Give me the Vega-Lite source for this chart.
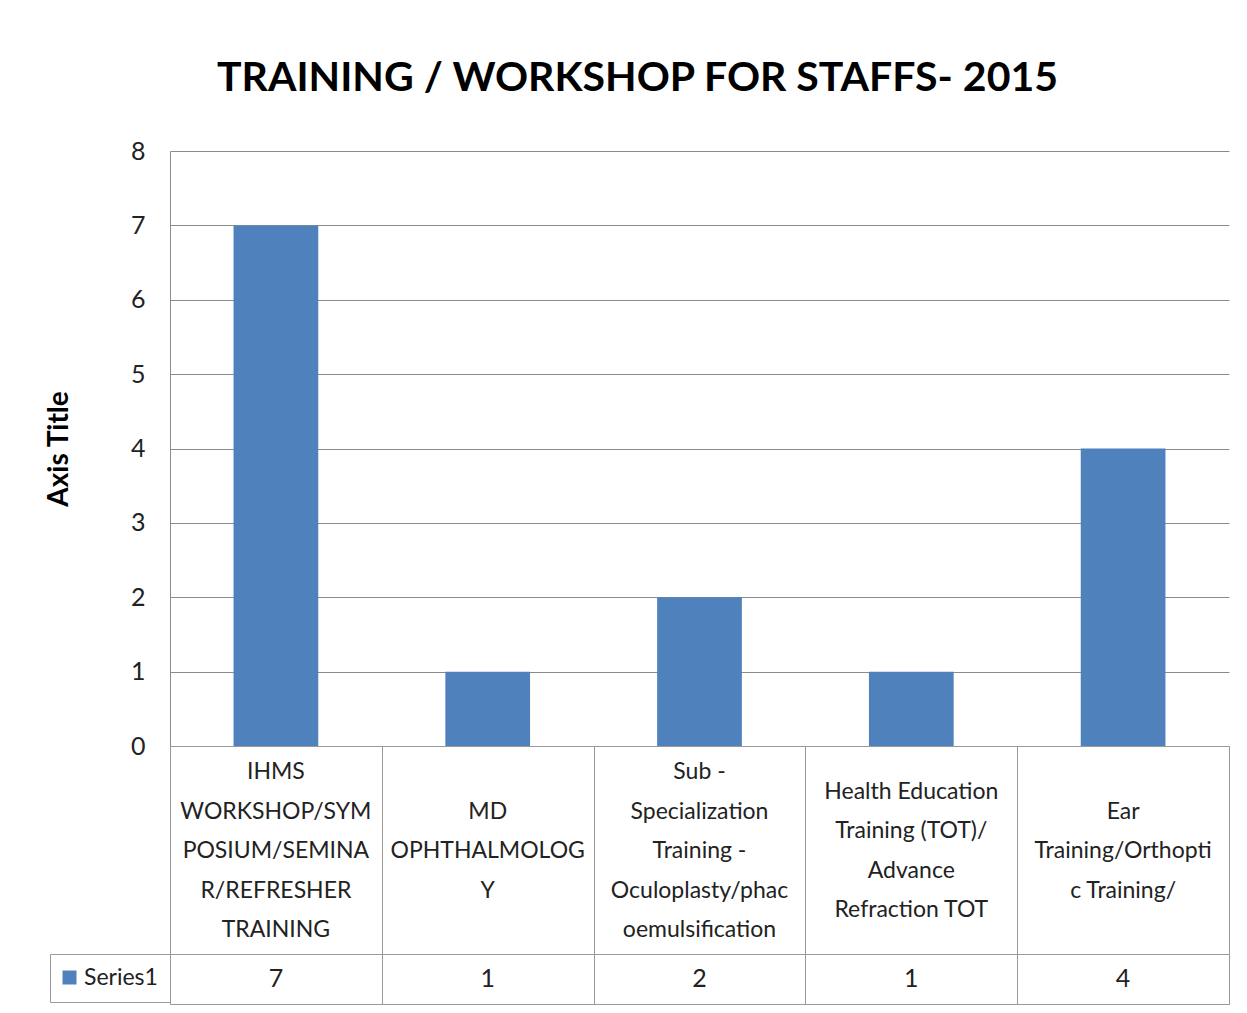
{
  "$schema": "https://vega.github.io/schema/vega-lite/v6.json",
  "padding": {"left": 45, "top": 58, "right": 18, "bottom": 5},
  "bounds": "flush",
  "title": {
    "text": "TRAINING / WORKSHOP FOR STAFFS- 2015",
    "fontSize": 41,
    "font": "Lato",
    "fontWeight": "bold",
    "color": "#000000",
    "anchor": "middle",
    "offset": 39
  },
  "data": {
    "values": [
      {"cat": "A", "label": "IHMS\nWORKSHOP/SYM\nPOSIUM/SEMINA\nR/REFRESHER\nTRAINING", "value": 7, "series": "Series1"},
      {"cat": "B", "label": "MD\nOPHTHALMOLOG\nY", "value": 1, "series": "Series1"},
      {"cat": "C", "label": "Sub -\nSpecialization\nTraining -\nOculoplasty/phac\noemulsification", "value": 2, "series": "Series1"},
      {"cat": "D", "label": "Health Education\nTraining (TOT)/\nAdvance\nRefraction TOT", "value": 1, "series": "Series1"},
      {"cat": "E", "label": "Ear\nTraining/Orthopti\nc Training/", "value": 4, "series": "Series1"}
    ]
  },
  "spacing": 0,
  "resolve": {
    "scale": {"x": "independent", "color": "independent"},
    "legend": {"color": "independent"}
  },
  "config": {
    "font": "Lato",
    "view": {"stroke": null},
    "text": {"color": "#222222"}
  },
  "vconcat": [
    {
      "width": 1059,
      "height": 595,
      "mark": {"type": "bar", "color": "#4F81BD"},
      "encoding": {
        "x": {
          "field": "cat",
          "type": "nominal",
          "sort": null,
          "scale": {"paddingInner": 0.6, "paddingOuter": 0.3},
          "axis": null
        },
        "y": {
          "field": "value",
          "type": "quantitative",
          "scale": {"domain": [0, 8], "nice": false},
          "axis": {
            "title": "Axis Title",
            "values": [0, 1, 2, 3, 4, 5, 6, 7, 8],
            "grid": true,
            "gridColor": "#8c8c8c",
            "gridOpacity": 1,
            "domainColor": "#8c8c8c",
            "ticks": false,
            "labelPadding": 25,
            "labelFontSize": 25,
            "labelColor": "#222222",
            "titleFontSize": 28,
            "titleFontWeight": "bold",
            "titleColor": "#000000",
            "titlePadding": 57
          }
        }
      }
    },
    {
      "width": 1059,
      "height": 208,
      "view": {"stroke": "#999999"},
      "encoding": {
        "x": {
          "field": "cat",
          "type": "nominal",
          "scale": {"domain": ["A", "B", "C", "D", "E"], "padding": 0},
          "axis": {
            "grid": true,
            "tickBand": "extent",
            "labels": false,
            "ticks": false,
            "domain": false,
            "title": null,
            "gridColor": "#999999",
            "gridOpacity": 1
          }
        },
        "text": {"field": "label"}
      },
      "layer": [
        {
          "transform": [{"filter": {"field": "cat", "oneOf": ["A", "C"]}}],
          "mark": {"type": "text", "lineBreak": "\n", "fontSize": 23, "lineHeight": 39.5, "baseline": "middle", "align": "center", "dy": -78}
        },
        {
          "transform": [{"filter": {"field": "cat", "oneOf": ["B", "E"]}}],
          "mark": {"type": "text", "lineBreak": "\n", "fontSize": 23, "lineHeight": 39.5, "baseline": "middle", "align": "center", "dy": -38.5}
        },
        {
          "transform": [{"filter": {"field": "cat", "oneOf": ["D"]}}],
          "mark": {"type": "text", "lineBreak": "\n", "fontSize": 23, "lineHeight": 39.5, "baseline": "middle", "align": "center", "dy": -58.25}
        }
      ]
    },
    {
      "width": 1059,
      "height": 50,
      "view": {"stroke": "#999999"},
      "layer": [
        {
          "mark": {"type": "text", "fontSize": 25, "baseline": "middle", "align": "center"},
          "encoding": {
            "x": {
              "field": "cat",
              "type": "nominal",
              "sort": null,
              "scale": {"padding": 0},
              "axis": {
                "grid": true,
                "tickBand": "extent",
                "labels": false,
                "ticks": false,
                "domain": false,
                "title": null,
                "gridColor": "#999999",
                "gridOpacity": 1
              }
            },
            "text": {"field": "value"}
          }
        },
        {
          "mark": {"type": "square", "size": 0, "opacity": 1},
          "encoding": {
            "color": {
              "field": "series",
              "type": "nominal",
              "scale": {"range": ["#4F81BD"]},
              "legend": {
                "title": null,
                "orient": "left",
                "offset": 0,
                "padding": 12,
                "strokeColor": "#999999",
                "symbolType": "square",
                "symbolSize": 196,
                "symbolStrokeWidth": 0,
                "symbolOpacity": 1,
                "symbolOffset": -4,
                "labelFontSize": 23,
                "labelColor": "#222222",
                "labelOffset": 3
              }
            }
          }
        }
      ]
    }
  ]
}
